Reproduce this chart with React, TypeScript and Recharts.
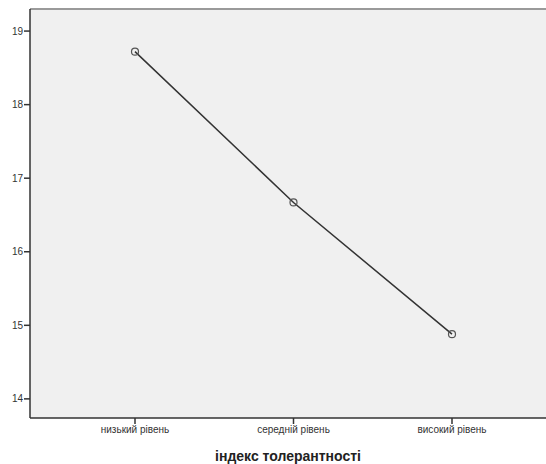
import React from 'react';
import { LineChart, Line, XAxis, YAxis, CartesianGrid, ReferenceLine } from 'recharts';

const categories = ['низький рівень', 'середній рівень', 'високий рівень'];
const means = [18.72, 16.67, 14.88];
const yTicks = [14, 15, 16, 17, 18, 19];

const data = categories.map((name, i) => ({ name, value: means[i] }));

const Y_MIN = 13.74;
const Y_MAX = 19.3;

const App: React.FC = () => {
  return (
    <div style={{ position: 'absolute', left: 0, top: 0, width: 546, height: 464, overflow: 'hidden', background: '#fff' }}>
      <LineChart
        width={560}
        height={464}
        data={data}
        margin={{ top: 9, right: 0, left: 0, bottom: 0 }}
      >
        <CartesianGrid fill="#f0f0f0" horizontal={false} vertical={false} />
        <ReferenceLine y={Y_MAX} stroke="#9a9a9a" strokeWidth={2} />
        <XAxis
          dataKey="name"
          padding={{ left: 105, right: 108 }}
          height={46}
          axisLine={{ stroke: '#333', strokeWidth: 1.5 }}
          tickLine={{ stroke: '#333', strokeWidth: 1.5 }}
          tickSize={6}
          tick={{ fill: '#333', fontSize: 10, fontFamily: 'Liberation Sans, Arial, sans-serif' }}
          interval={0}
          label={{
            value: 'індекс толерантності',
            position: 'insideBottom',
            offset: 3,
            fill: '#222',
            fontSize: 14,
            fontWeight: 'bold',
            fontFamily: 'Liberation Sans, Arial, sans-serif',
            dx: -7,
          }}
        />
        <YAxis
          type="number"
          domain={[Y_MIN, Y_MAX]}
          ticks={yTicks}
          width={30}
          axisLine={{ stroke: '#333', strokeWidth: 1.5 }}
          tickLine={{ stroke: '#333', strokeWidth: 1.5 }}
          tickSize={6}
          tickMargin={1}
          tick={{ fill: '#333', fontSize: 10, fontFamily: 'Liberation Sans, Arial, sans-serif' }}
          allowDataOverflow
        />
        <Line
          type="linear"
          dataKey="value"
          stroke="#333"
          strokeWidth={1.5}
          dot={{ r: 3.5, stroke: '#555', strokeWidth: 1.2, fill: 'none' }}
          activeDot={false}
          isAnimationActive={false}
        />
      </LineChart>
    </div>
  );
};

export default App;
